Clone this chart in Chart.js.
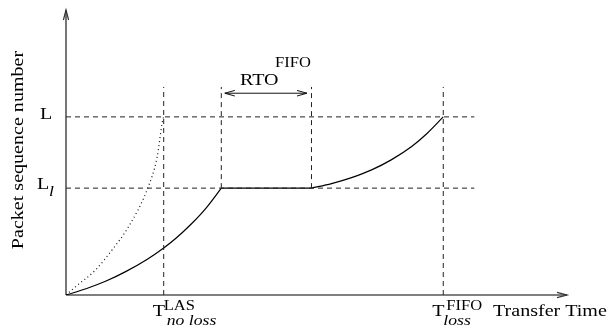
<!DOCTYPE html>
<html>
<head>
<meta charset="utf-8">
<script src="https://cdn.jsdelivr.net/npm/chart.js@4/dist/chart.umd.min.js"></script>
<style>
  html, body { margin: 0; padding: 0; background: #ffffff; }
  canvas { display: block; }
</style>
</head>
<body>
<canvas id="c" width="610" height="329"></canvas>
<script>
// ---- Data (transfer time on x, packet sequence number on y; arbitrary units 0..100) ----
const levelL = 62.5;        // L
const levelLl = 37.5;       // L_l
const tLAS = 19.5;          // T^LAS_no loss
const tLossStart = 31;      // loss detected, RTO starts
const tLossEnd = 49;        // RTO ends
const tFIFO = 75.3;         // T^FIFO_loss
const guideTop = 73;        // top of vertical guide lines
const guideRight = 81.5;    // right end of horizontal guide lines
const rtoArrowY = 70.8;
const rtoArrowX = [31.7, 48.1];

// FIFO transfer with a loss (solid): growth, RTO wait, growth
const fifoRiseX = [0, 4, 8, 12, 16, 19.5, 22, 25, 28, 31];
const fifoRiseY = [0, 2.2, 4.9, 8.3, 12.3, 16.5, 20.0, 24.9, 30.6, 37.5];
const fifoWaitX = [31, 49];
const fifoWaitY = [37.5, 37.5];
const fifoResumeX = [49, 53, 57, 61, 65, 69, 72, 75.3];
const fifoResumeY = [37.5, 39.1, 41.2, 43.9, 47.5, 52.1, 56.6, 62.5];

// LAS transfer, no loss (dotted)
const lasX = [0, 1.9, 5.9, 9.2, 12.5, 16.2, 18.2, 19.2, 19.5];
const lasY = [0, 2.9, 8.8, 15.8, 24.0, 37.0, 48.5, 60.4, 62.5];

// Labels
const yLevelLabels = ['L', 'L', 'l'];
const xAxisTitle = 'Transfer Time';
const yAxisTitle = 'Packet sequence number';
const rtoLabel = ['RTO', 'FIFO'];
const tLASLabel = ['T', 'LAS', 'no loss'];
const tFIFOLabel = ['T', 'FIFO', 'loss'];

const pts = (xs, ys) => xs.map((x, i) => ({ x: x, y: ys[i] }));

const dashStyle = { borderColor: '#222', borderWidth: 1, borderDash: [5, 4], pointRadius: 0, showLine: true, tension: 0, fill: false };
const solidStyle = { borderColor: '#000', borderWidth: 1.2, pointRadius: 0, showLine: true, cubicInterpolationMode: 'monotone' };

const datasets = [
  Object.assign({ data: [{ x: 0, y: levelL }, { x: guideRight, y: levelL }] }, dashStyle),
  Object.assign({ data: [{ x: 0, y: levelLl }, { x: guideRight, y: levelLl }] }, dashStyle),
  Object.assign({ data: [{ x: tLAS, y: 0 }, { x: tLAS, y: guideTop }] }, dashStyle),
  Object.assign({ data: [{ x: tLossStart, y: levelLl }, { x: tLossStart, y: guideTop }] }, dashStyle),
  Object.assign({ data: [{ x: tLossEnd, y: levelLl }, { x: tLossEnd, y: guideTop }] }, dashStyle),
  Object.assign({ data: [{ x: tFIFO, y: 0 }, { x: tFIFO, y: guideTop }] }, dashStyle),
  { data: [{ x: rtoArrowX[0], y: rtoArrowY }, { x: rtoArrowX[1], y: rtoArrowY }], borderColor: '#111', borderWidth: 1, pointRadius: 0, showLine: true, tension: 0 },
  { data: pts(lasX, lasY), borderColor: '#111', borderWidth: 1.2, borderDash: [1, 3], pointRadius: 0, showLine: true, cubicInterpolationMode: 'monotone' },
  Object.assign({ data: pts(fifoRiseX, fifoRiseY) }, solidStyle),
  Object.assign({ data: pts(fifoWaitX, fifoWaitY) }, solidStyle),
  Object.assign({ data: pts(fifoResumeX, fifoResumeY) }, solidStyle)
];

const STRETCH = 1.18;
const FAM = '"Liberation Serif", "Times New Roman", serif';
function txt(ctx, s, x, y, size, italic) {
  ctx.save();
  ctx.font = (italic ? 'italic ' : '') + size + 'px ' + FAM;
  ctx.fillStyle = '#000';
  ctx.textBaseline = 'alphabetic';
  ctx.textAlign = 'left';
  ctx.translate(x, y);
  ctx.scale(STRETCH, 1);
  ctx.fillText(s, 0, 0);
  ctx.restore();
}
function arrowHead(ctx, tipX, tipY, dx, dy, len, half) {
  const bx = tipX - dx * len, by = tipY - dy * len;
  const px = -dy, py = dx;
  ctx.beginPath();
  ctx.moveTo(bx + px * half, by + py * half);
  ctx.lineTo(tipX, tipY);
  ctx.lineTo(bx - px * half, by - py * half);
  ctx.stroke();
}

const decorations = {
  id: 'decorations',
  beforeDatasetsDraw(chart) {
    const ctx = chart.ctx;
    const a = chart.chartArea;
    ctx.save();
    ctx.strokeStyle = '#555';
    ctx.lineWidth = 1.6;
    ctx.beginPath();
    ctx.moveTo(a.left, a.bottom);
    ctx.lineTo(a.right, a.bottom);
    ctx.moveTo(a.left, a.bottom);
    ctx.lineTo(a.left, a.top);
    ctx.stroke();
    ctx.lineWidth = 1.2;
    ctx.strokeStyle = '#333';
    arrowHead(ctx, a.right, a.bottom, 1, 0, 10, 2.6);
    arrowHead(ctx, a.left, a.top, 0, -1, 10, 2.6);
    ctx.restore();
  },
  afterDatasetsDraw(chart) {
    const ctx = chart.ctx;
    const xs = chart.scales.x, ys = chart.scales.y;
    const a = chart.chartArea;
    ctx.save();
    ctx.strokeStyle = '#111';
    ctx.lineWidth = 1;
    const ay = ys.getPixelForValue(rtoArrowY);
    arrowHead(ctx, xs.getPixelForValue(rtoArrowX[0]), ay, -1, 0, 10, 2.8);
    arrowHead(ctx, xs.getPixelForValue(rtoArrowX[1]), ay, 1, 0, 10, 2.8);
    ctx.restore();

    // y-axis title (rotated)
    ctx.save();
    ctx.font = '17px ' + FAM;
    ctx.fillStyle = '#000';
    ctx.textAlign = 'center';
    ctx.textBaseline = 'middle';
    ctx.translate(18.5, 150);
    ctx.rotate(-Math.PI / 2);
    ctx.scale(STRETCH, 1);
    ctx.fillText(yAxisTitle, 0, 0);
    ctx.restore();

    // Level labels
    const yL = ys.getPixelForValue(levelL);
    const yLl = ys.getPixelForValue(levelLl);
    txt(ctx, yLevelLabels[0], 40, yL + 2, 17, false);
    txt(ctx, yLevelLabels[1], 37, yLl + 0.5, 17, false);
    txt(ctx, yLevelLabels[2], 49, yLl + 8, 15, true);

    // x annotations
    const xb = a.bottom + 21;
    const xLAS = xs.getPixelForValue(tLAS);
    txt(ctx, tLASLabel[0], xLAS - 11, xb, 17, false);
    txt(ctx, tLASLabel[1], xLAS, xb - 6, 14, false);
    txt(ctx, tLASLabel[2], xLAS + 3, xb + 9, 15, true);

    const xF = xs.getPixelForValue(tFIFO);
    txt(ctx, tFIFOLabel[0], xF - 11, xb, 17, false);
    txt(ctx, tFIFOLabel[1], xF + 3, xb - 6, 14, false);
    txt(ctx, tFIFOLabel[2], xF, xb + 9, 15, true);

    txt(ctx, xAxisTitle, 493, xb, 17, false);

    // RTO label
    txt(ctx, rtoLabel[0], 240, ay - 8, 17, false);
    txt(ctx, rtoLabel[1], 275, ay - 26, 14, false);
  }
};

function draw() {
  new Chart(document.getElementById('c'), {
    type: 'scatter',
    data: { datasets: datasets },
    options: {
      responsive: false,
      animation: false,
      events: [],
      layout: { padding: { left: 66, right: 43, top: 10, bottom: 34 } },
      plugins: { legend: { display: false }, tooltip: { enabled: false } },
      scales: {
        x: { type: 'linear', min: 0, max: 100, display: false },
        y: { type: 'linear', min: 0, max: 100, display: false }
      }
    },
    plugins: [decorations]
  });
}

Promise.all([
  document.fonts.load('17px "Liberation Serif"'),
  document.fonts.load('italic 15px "Liberation Serif"')
]).then(draw, draw);
</script>
</body>
</html>
